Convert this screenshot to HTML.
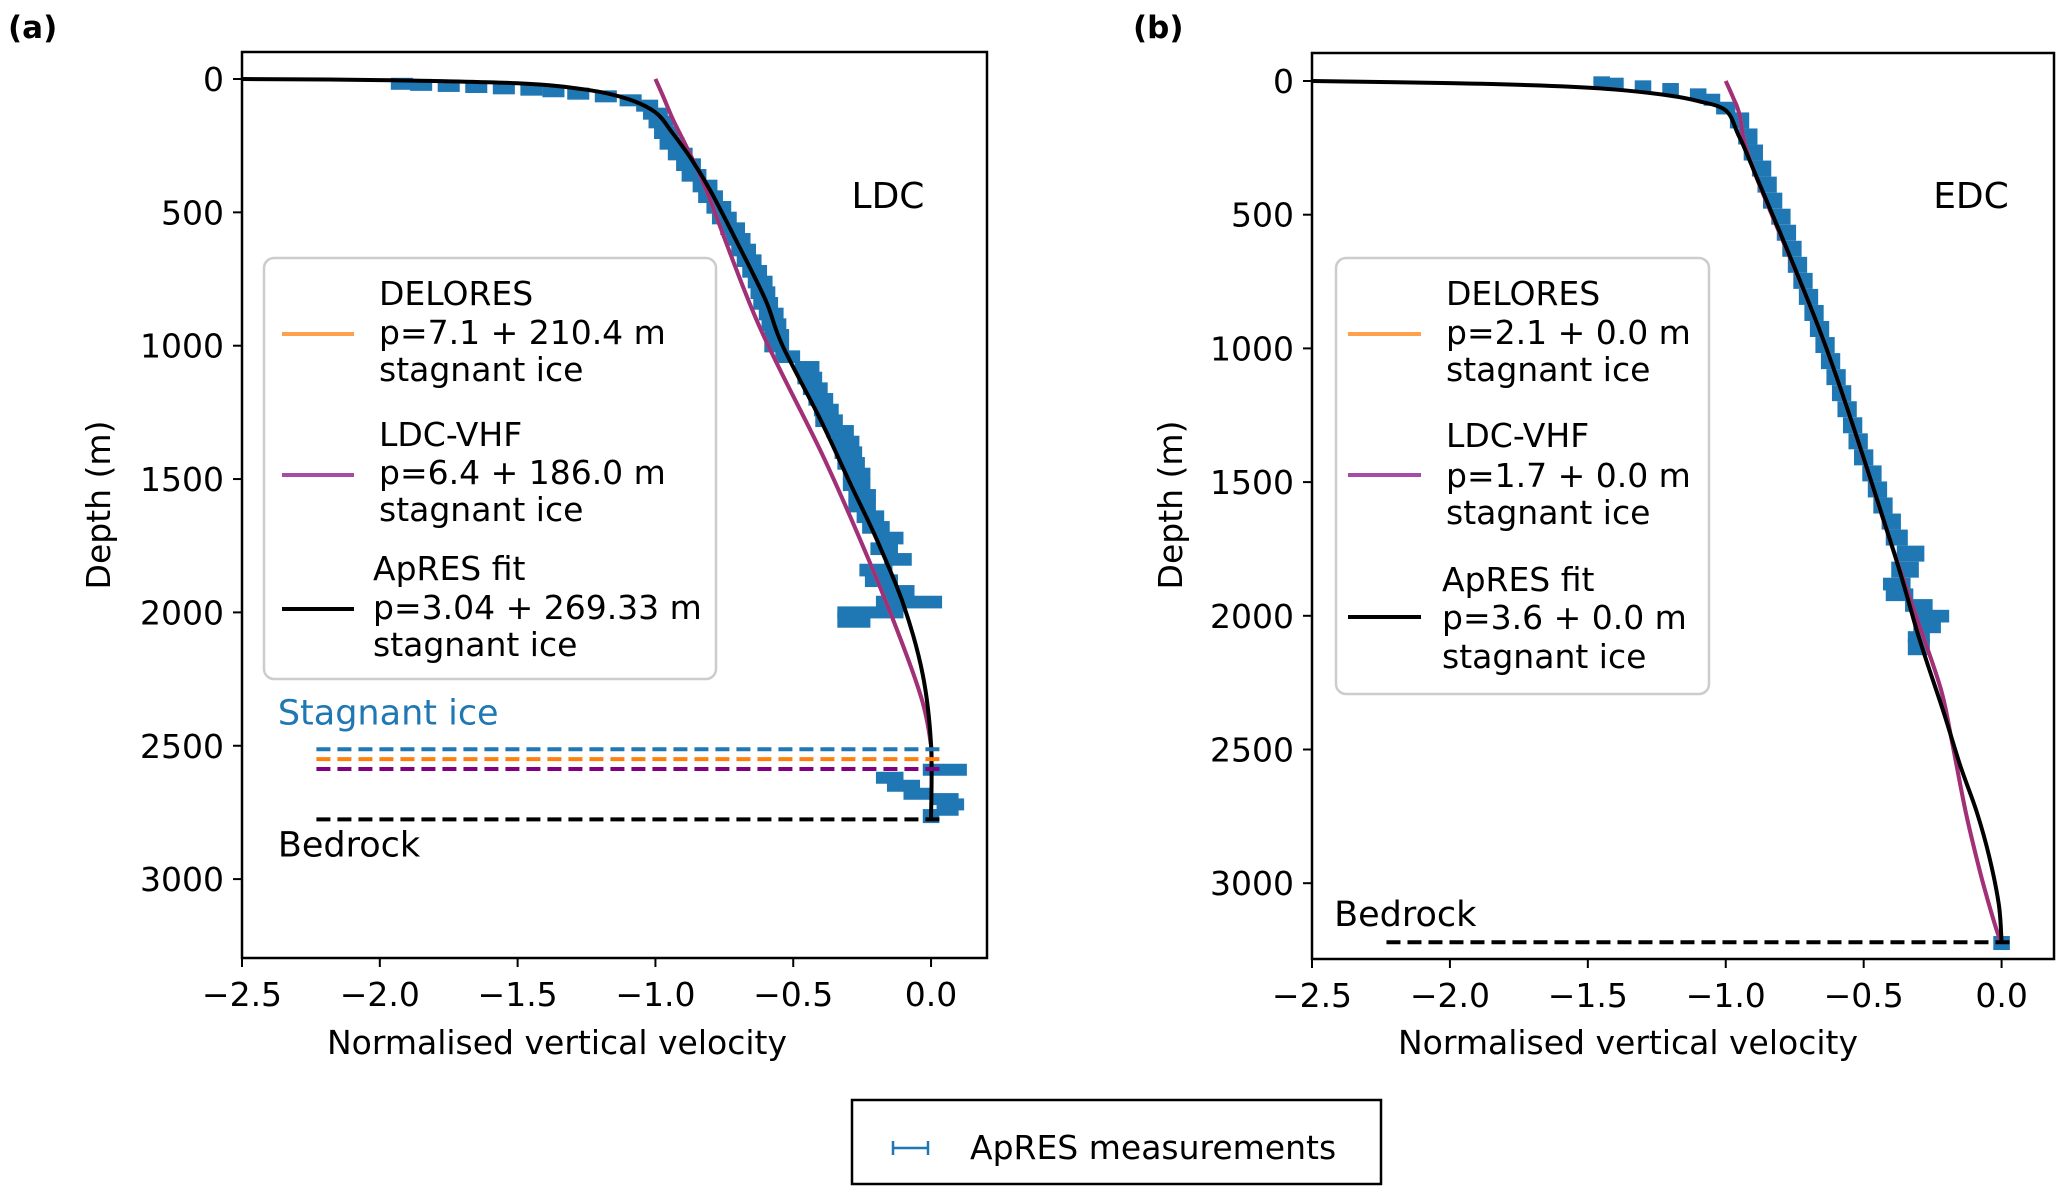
<!DOCTYPE html>
<html><head><meta charset="utf-8"><style>
body{margin:0;background:#fff}
svg{display:block;font-family:"DejaVu Sans","Liberation Sans",sans-serif}
</style></head><body>
<svg id="fig" width="2067" height="1195" viewBox="0 0 2067 1195" xmlns="http://www.w3.org/2000/svg"></svg>
<script>
// ---- Panel A data ----
const aFitV=[-2.5,-2.0,-1.5,-1.25,-1.1,-1.0,-0.94,-0.87,-0.8,-0.7,-0.6,-0.54,-0.4,-0.29,-0.2,-0.1,-0.03,0,0];
const aFitD=[0,4,16,40,75,125,200,300,420,620,830,997,1280,1524,1720,1971,2234,2497,2776];
const aVhfV=[-1.0,-0.97,-0.935,-0.88,-0.815,-0.627,-0.39,-0.222,-0.1,-0.03,0,0];
const aVhfD=[0,70,155,270,418,918,1418,1813,2129,2339,2500,2587];
const aDelV=[-1.0,-0.97,-0.935,-0.88,-0.815,-0.627,-0.39,-0.222,-0.1,-0.03,0,0];
const aDelD=[0,70,155,270,418,918,1418,1813,2129,2339,2500,2550];
const aMeasD=[18,22,26,30,35,40,46,55,65,80,100,130,160,200,240,280,320,360,400,440,480,520,560,600,640,680,720,760,800,840,880,920,960,1000,1040,1080,1120,1160,1200,1240,1280,1320,1360,1400,1440,1480,1520,1560,1600,1640,1680,1720,1760,1800,1840,1880,1920,1960,2000,2020,2590,2620,2650,2680,2700,2720,2740,2760];
const aMeasV=[-1.92,-1.85,-1.75,-1.65,-1.55,-1.45,-1.37,-1.28,-1.18,-1.09,-1.03,-1.0,-0.98,-0.96,-0.94,-0.91,-0.88,-0.86,-0.82,-0.8,-0.77,-0.75,-0.72,-0.7,-0.68,-0.66,-0.64,-0.62,-0.61,-0.6,-0.58,-0.57,-0.56,-0.56,-0.52,-0.45,-0.44,-0.42,-0.4,-0.38,-0.37,-0.33,-0.31,-0.3,-0.29,-0.27,-0.27,-0.25,-0.25,-0.22,-0.2,-0.15,-0.17,-0.12,-0.2,-0.18,-0.12,-0.08,-0.22,-0.28,0.05,-0.15,-0.1,-0.05,0.05,0.08,0.06,0.0];
const aMeasE=[0.04,0.04,0.04,0.04,0.04,0.04,0.04,0.04,0.04,0.04,0.04,0.045,0.045,0.045,0.045,0.045,0.045,0.045,0.045,0.045,0.045,0.045,0.045,0.045,0.045,0.045,0.045,0.045,0.045,0.045,0.045,0.045,0.045,0.045,0.045,0.045,0.045,0.045,0.045,0.045,0.05,0.05,0.05,0.05,0.05,0.05,0.05,0.05,0.05,0.05,0.05,0.05,0.05,0.05,0.06,0.06,0.06,0.12,0.12,0.06,0.08,0.05,0.06,0.05,0.05,0.04,0.04,0.03];
// ---- Panel B data ----
const bFitV=[-2.5,-2.0,-1.67,-1.4,-1.2,-1.1,-1.0,-0.955,-0.9,-0.64,-0.4,-0.3,-0.21,-0.15,-0.09,-0.045,-0.01,0];
const bFitD=[0,8,17,32,55,75,110,200,330,986,1731,2080,2361,2560,2734,2900,3080,3221];
const bVhfV=[-1.0,-0.97,-0.95,-0.9,-0.64,-0.4,-0.3,-0.22,-0.18,-0.13,-0.08,-0.04,-0.01,0];
const bVhfD=[0,70,126,330,986,1731,2030,2275,2470,2734,2950,3100,3200,3221];
const bDelV=[-1.0,-0.97,-0.95,-0.9,-0.64,-0.4,-0.3,-0.22,-0.18,-0.13,-0.08,-0.04,-0.01,0];
const bDelD=[0,70,126,330,986,1731,2030,2275,2470,2734,2950,3100,3200,3221];
const bMeasD=[5,10,20,30,50,70,100,140,200,260,320,380,440,500,560,620,680,740,800,860,920,980,1040,1100,1160,1220,1280,1340,1400,1460,1520,1580,1640,1700,1760,1820,1880,1920,1960,2000,2040,2080,2110,3220];
const bMeasV=[-1.45,-1.4,-1.3,-1.2,-1.1,-1.05,-1.0,-0.95,-0.92,-0.9,-0.87,-0.85,-0.83,-0.8,-0.78,-0.76,-0.74,-0.72,-0.7,-0.68,-0.66,-0.64,-0.62,-0.6,-0.58,-0.56,-0.54,-0.52,-0.5,-0.47,-0.45,-0.43,-0.4,-0.38,-0.33,-0.35,-0.38,-0.37,-0.3,-0.25,-0.27,-0.3,-0.3,0.0];
const bMeasE=[0.03,0.03,0.03,0.03,0.03,0.03,0.035,0.035,0.035,0.035,0.035,0.035,0.035,0.035,0.035,0.035,0.035,0.035,0.035,0.035,0.035,0.035,0.035,0.035,0.035,0.035,0.035,0.035,0.035,0.035,0.035,0.035,0.035,0.04,0.05,0.05,0.05,0.05,0.05,0.06,0.05,0.04,0.04,0.03];
const xTicks=[-2.5,-2.0,-1.5,-1.0,-0.5,0.0];
const xTickLabels=["\u22122.5","\u22122.0","\u22121.5","\u22121.0","\u22120.5","0.0"];
const yTicks=[0,500,1000,1500,2000,2500,3000];

const NS="http://www.w3.org/2000/svg";
const svg=document.getElementById('fig');
function mk(tag,attrs,parent,text){const e=document.createElementNS(NS,tag);for(const k in attrs)e.setAttribute(k,attrs[k]);if(text!==undefined)e.textContent=text;(parent||svg).appendChild(e);return e;}
function smooth(pts){
  let d='M'+pts[0][0]+','+pts[0][1];
  for(let i=0;i<pts.length-1;i++){
    const p0=pts[Math.max(0,i-1)],p1=pts[i],p2=pts[i+1],p3=pts[Math.min(pts.length-1,i+2)];
    const c1=[p1[0]+(p2[0]-p0[0])/6,p1[1]+(p2[1]-p0[1])/6];
    const c2=[p2[0]-(p3[0]-p1[0])/6,p2[1]-(p3[1]-p1[1])/6];
    d+=' C'+c1[0]+','+c1[1]+' '+c2[0]+','+c2[1]+' '+p2[0]+','+p2[1];
  }
  return d;
}

function panel(P){
  const g=mk('g',{});
  
  
  const X=v=>P.left+(v-P.xmin)/(P.xmax-P.xmin)*(P.right-P.left);
  const Y=d=>P.y0+d*P.yscale;
  const mg=mk('g',{},g);
  
  
  P.mD.forEach((d,i)=>{
    const x1=X(P.mV[i]-P.mE[i]),x2=X(P.mV[i]+P.mE[i]),y=Y(d);
    const nxt=i<P.mD.length-1?Y(P.mD[i+1])-y:12;
    const h=Math.min(Math.max(12,nxt+2),16);
    const r=mk('rect',{x:x1,y:y-6,width:Math.max(2,x2-x1),height:h,fill:'#1f77b4'},mg);
    
    
  });
  const line=(V,D,color,w,name)=>{
    const p=mk('path',{d:smooth(V.map((v,i)=>[X(v),Y(D[i])])),fill:'none',stroke:color,'stroke-width':w,'stroke-linejoin':'round'},g);
    
    
  };
  line(P.dV,P.dD,'#ffa04d',4,'delores-curve');
  line(P.vV,P.vD,'#a0307a',4,'ldc-vhf-curve');
  line(P.fV,P.fD,'#000',4,'apres-fit-curve');
  P.dashes.forEach(ds=>{
    const l=mk('line',{x1:X(-2.23),x2:X(0.036),y1:Y(ds[0]),y2:Y(ds[0]),stroke:ds[1],'stroke-width':4,'stroke-dasharray':'14,7'},g);
    
    
  });
  const f=mk('rect',{x:P.left,y:P.top,width:P.right-P.left,height:P.bottom-P.top,fill:'none',stroke:'#000','stroke-width':2.5},g);
  
  
  xTicks.forEach((t,i)=>{
    mk('line',{x1:X(t),x2:X(t),y1:P.bottom,y2:P.bottom+9,stroke:'#000','stroke-width':2},g);
    const tx=mk('text',{x:X(t),y:P.bottom+48,'font-size':33,'text-anchor':'middle'},g,xTickLabels[i]);
    
    
  });
  yTicks.forEach(t=>{
    mk('line',{x1:P.left-9,x2:P.left,y1:Y(t),y2:Y(t),stroke:'#000','stroke-width':2},g);
    const ty=mk('text',{x:P.left-18,y:Y(t)+12,'font-size':33,'text-anchor':'end'},g,String(t));
    
    
  });
  const xl=mk('text',{x:P.xlabX,y:1054,'font-size':33,'text-anchor':'middle'},g,'Normalised vertical velocity');
  
  
  const yl=mk('text',{x:0,y:0,'font-size':33,'text-anchor':'middle',transform:`translate(${P.ylabX},505) rotate(-90)`},g,'Depth (m)');
  
  
  const st=mk('text',{x:P.siteX,y:208,'font-size':36,'text-anchor':'middle'},g,P.site);
  
  
  const pl=mk('text',{x:P.plX,y:38,'font-size':31,'font-weight':'bold'},g,P.pl);
  
  
  const L=P.leg;
  const lg=mk('g',{},g);
  
  
  mk('rect',{x:L.x,y:L.y,width:L.w,height:L.h,rx:10,fill:'#fff','fill-opacity':0.85,stroke:'#ccc','stroke-width':2.5},lg);
  L.items.forEach(it=>{
    mk('line',{x1:L.lx1,x2:L.lx2,y1:it.y,y2:it.y,stroke:it.c,'stroke-width':4},lg);
    it.t.forEach((s,j)=>{
      const t=mk('text',{x:it.tx,y:it.ty[j],'font-size':33},lg,s);
      
      
    });
  });
  return {X,Y,g};
}

const A=panel({name:'panel-a-ldc',left:242,right:987,top:52,bottom:958,xmin:-2.5,xmax:0.203,y0:79,yscale:0.2667,
  fV:aFitV,fD:aFitD,vV:aVhfV,vD:aVhfD,dV:aDelV,dD:aDelD,mD:aMeasD,mV:aMeasV,mE:aMeasE,
  dashes:[[2513,'#1f77b4','stagnant-ice-apres'],[2550,'#ff7f0e','stagnant-ice-delores'],[2587,'#800080','stagnant-ice-ldc-vhf'],[2776,'#000','bedrock-line']],
  ylabX:110,xlabX:557,site:'LDC',siteX:888,pl:'(a)',plX:8,
  leg:{x:264,y:258,w:452,h:421,lx1:282,lx2:354,items:[
    {y:334,c:'#ffa04d',tx:379,ty:[305,344,381],t:['DELORES','p=7.1 + 210.4 m','stagnant ice']},
    {y:475,c:'#a64ca6',tx:379,ty:[446,484,521],t:['LDC-VHF','p=6.4 + 186.0 m','stagnant ice']},
    {y:609,c:'#000',tx:373,ty:[580,619,656],t:['ApRES fit','p=3.04 + 269.33 m','stagnant ice']}]}
});
const B=panel({name:'panel-b-edc',left:1312,right:2054,top:53,bottom:959,xmin:-2.5,xmax:0.19,y0:81,yscale:0.2674,
  fV:bFitV,fD:bFitD,vV:bVhfV,vD:bVhfD,dV:bDelV,dD:bDelD,mD:bMeasD,mV:bMeasV,mE:bMeasE,
  dashes:[[3221,'#000','bedrock-line']],
  ylabX:1182,xlabX:1628,site:'EDC',siteX:1971,pl:'(b)',plX:1133,
  leg:{x:1336,y:258,w:373,h:436,lx1:1348,lx2:1421,items:[
    {y:334,c:'#ffa04d',tx:1446,ty:[305,344,381],t:['DELORES','p=2.1 + 0.0 m','stagnant ice']},
    {y:475,c:'#a64ca6',tx:1446,ty:[447,487,524],t:['LDC-VHF','p=1.7 + 0.0 m','stagnant ice']},
    {y:617,c:'#000',tx:1442,ty:[591,629,668],t:['ApRES fit','p=3.6 + 0.0 m','stagnant ice']}]}
});
let t=mk('text',{x:A.X(-2.37),y:A.Y(2420),'font-size':35,fill:'#1f77b4'},A.g,'Stagnant ice');


t=mk('text',{x:A.X(-2.37),y:A.Y(2915),'font-size':35},A.g,'Bedrock');


t=mk('text',{x:B.X(-2.42),y:B.Y(3160),'font-size':35},B.g,'Bedrock');


const bl=mk('g',{});


mk('rect',{x:852,y:1100,width:529,height:84,fill:'#fff',stroke:'#000','stroke-width':2.5},bl);
mk('line',{x1:893,x2:928,y1:1148,y2:1148,stroke:'#1f77b4','stroke-width':2.5},bl);
mk('line',{x1:893,x2:893,y1:1141,y2:1155,stroke:'#1f77b4','stroke-width':2.5},bl);
mk('line',{x1:928,x2:928,y1:1141,y2:1155,stroke:'#1f77b4','stroke-width':2.5},bl);
t=mk('text',{x:970,y:1159,'font-size':33},bl,'ApRES measurements');


</script>
</body></html>
